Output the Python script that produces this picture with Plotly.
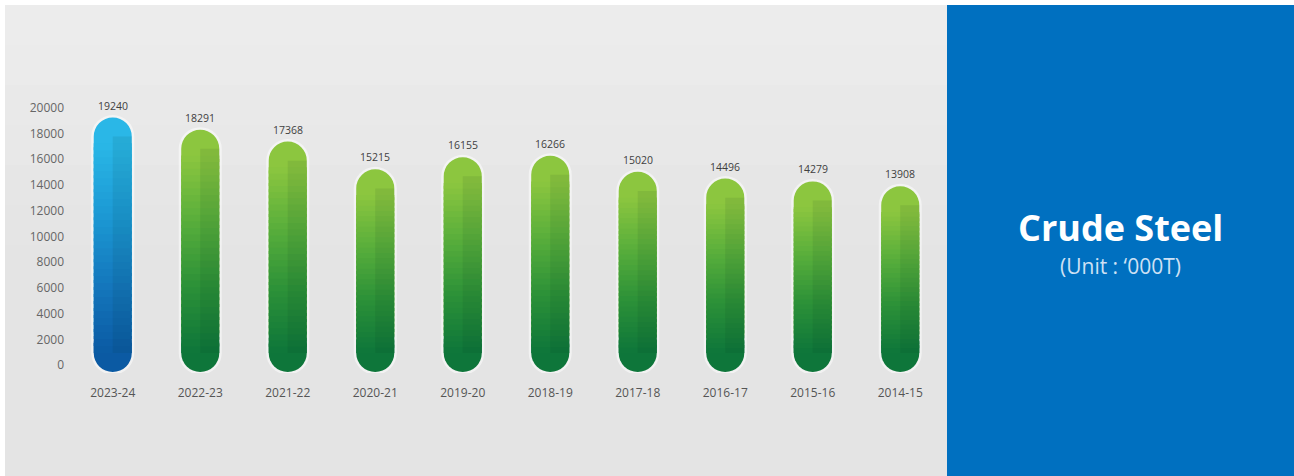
import plotly.graph_objects as go

# ---- data -------------------------------------------------------------
years = ["2023-24", "2022-23", "2021-22", "2020-21", "2019-20",
         "2018-19", "2017-18", "2016-17", "2015-16", "2014-15"]
production = [19240, 18291, 17368, 15215, 16155, 16266, 15020, 14496, 14279, 13908]
y_ticks = [0, 2000, 4000, 6000, 8000, 10000, 12000, 14000, 16000, 18000, 20000]

panel_title = "Crude Steel"
panel_unit = "(Unit : \u2018000T)"

# ---- canvas / layout geometry ----------------------------------------
W, H = 1294, 476
L, R, T, B = 69, 350, 100, 103
PW, PH = W - L - R, H - T - B
Y_RANGE = [-600, 20600]
BAR_W = 0.435                       # bar width as a fraction of a category
BAR_PX = BAR_W * PW / len(years)    # bar width in pixels
PX_PER_UNIT = PH / (Y_RANGE[1] - Y_RANGE[0])
RADIUS = BAR_PX / 2 / PX_PER_UNIT   # pill end radius in data units

PILL_BASE = 950                     # centre of the rounded foot of each pill
CAP = 2000                          # top zone left to the rounded head
N_SEG = 30                          # slices used for the vertical gradient
OVERLAP = 3 / PX_PER_UNIT           # slices overlap by ~3px to hide seams

GREEN = ["#0e763a", "#2b9038", "#58ae3b", "#8cc63f"]
BLUE = ["#0b5aa3", "#1478bd", "#1c9ad4", "#2ab7e7"]


def hex_to_rgb(h):
    h = h.lstrip("#")
    return tuple(int(h[i:i + 2], 16) for i in (0, 2, 4))


def ramp(stops, t):
    """Linear colour ramp across evenly spaced stops, t in [0, 1]."""
    n = len(stops) - 1
    pos = min(max(t, 0.0), 1.0) * n
    i = min(int(pos), n - 1)
    f = pos - i
    a, b = hex_to_rgb(stops[i]), hex_to_rgb(stops[i + 1])
    return "rgb(%d,%d,%d)" % tuple(round(a[k] + (b[k] - a[k]) * f) for k in range(3))


palettes = [BLUE] + [GREEN] * (len(years) - 1)
n = len(years)

fig = go.Figure()


def pill_bar(bases, tops, colors, width):
    fig.add_bar(x=years, y=[t - b for b, t in zip(bases, tops)], base=bases, width=width,
                marker=dict(color=colors, line=dict(width=0), cornerradius="50%"),
                hoverinfo="skip", showlegend=False)


# soft white halo behind each pill
halo_px = 2.5
halo_pad = halo_px / PX_PER_UNIT
pill_bar([PILL_BASE - RADIUS - halo_pad] * n, [v + halo_pad for v in production],
         "rgba(255,255,255,0.5)", BAR_W + 2 * halo_px * len(years) / PW)

# dark rounded foot and light rounded head
pill_bar([PILL_BASE - RADIUS] * n, [PILL_BASE + RADIUS * 1.5] * n,
         [ramp(p, 0.0) for p in palettes], BAR_W)
pill_bar([PILL_BASE] * n, list(production), [ramp(p, 1.0) for p in palettes], BAR_W)

# gradient body of each pill, drawn as overlaid slices from foot to head
for k in range(N_SEG):
    bases, heights, colors = [], [], []
    for v, pal in zip(production, palettes):
        body = v - CAP - PILL_BASE
        step = body / N_SEG
        bases.append(PILL_BASE + step * k)
        heights.append(step + (OVERLAP if k < N_SEG - 1 else 0))
        colors.append(ramp(pal, (k + 0.5) / N_SEG))
    fig.add_bar(x=years, y=heights, base=bases, width=BAR_W,
                marker=dict(color=colors, line=dict(width=0)),
                hoverinfo="skip", showlegend=False)

# darker right half for the cylindrical look
fig.add_bar(x=years, y=[v - RADIUS - PILL_BASE for v in production],
            base=[PILL_BASE] * n, width=BAR_W / 2, offset=0,
            marker=dict(color="rgba(0,40,30,0.08)", line=dict(width=0)),
            hoverinfo="skip", showlegend=False)

# value labels above the pills
for yr, v in zip(years, production):
    fig.add_annotation(x=yr, y=v, text=str(v), showarrow=False, yshift=12,
                       font=dict(family="Open Sans", size=10.5, color="#404040"))


def px_x(px):
    return (px - L) / PW


def px_y(py):
    return 1 - (py - T) / PH


shapes = [
    # brushed-metal backdrop
    dict(type="rect", xref="paper", yref="paper", x0=px_x(5), x1=px_x(947),
         y0=px_y(H), y1=px_y(5), fillcolor="#e4e4e4", line=dict(width=0), layer="below"),
]
# gentle lightening towards the top of the backdrop
for i, top in enumerate(range(5, 240, 40)):
    shapes.append(dict(type="rect", xref="paper", yref="paper", x0=px_x(5), x1=px_x(947),
                       y0=px_y(top + 40), y1=px_y(top),
                       fillcolor="rgba(255,255,255,%.3f)" % (0.30 - i * 0.05),
                       line=dict(width=0), layer="below"))
# blue title panel
shapes.append(dict(type="rect", xref="paper", yref="paper", x0=px_x(947), x1=px_x(W),
                   y0=px_y(H), y1=px_y(5), fillcolor="#0070c0", line=dict(width=0),
                   layer="below"))

fig.add_annotation(xref="paper", yref="paper", x=px_x(1120), y=px_y(227),
                   xanchor="center", yanchor="middle",
                   text="<b>%s</b>" % panel_title, showarrow=False,
                   font=dict(family="Open Sans", size=36, color="white"))
fig.add_annotation(xref="paper", yref="paper", x=px_x(1120), y=px_y(266),
                   xanchor="center", yanchor="middle",
                   text=panel_unit, showarrow=False,
                   font=dict(family="Open Sans", size=21, color="#cfe1f4"))

fig.update_layout(
    width=W, height=H,
    margin=dict(l=L, r=R, t=T, b=B, pad=0),
    barmode="overlay",
    paper_bgcolor="white",
    plot_bgcolor="rgba(0,0,0,0)",
    shapes=shapes,
    showlegend=False,
    font=dict(family="Open Sans", color="#555555"),
    xaxis=dict(type="category", range=[-0.5, len(years) - 0.5], showgrid=False,
               showline=False, zeroline=False, ticks="", ticklabelstandoff=11,
               tickfont=dict(size=12, color="#555555"), fixedrange=True),
    yaxis=dict(range=Y_RANGE, tickvals=y_ticks, ticktext=[str(t) for t in y_ticks],
               showgrid=False, showline=False, zeroline=False, ticks="",
               ticklabelstandoff=4,
               tickfont=dict(size=12, color="#666666"), fixedrange=True),
)

fig.write_html("out.html", config={"displayModeBar": False})
